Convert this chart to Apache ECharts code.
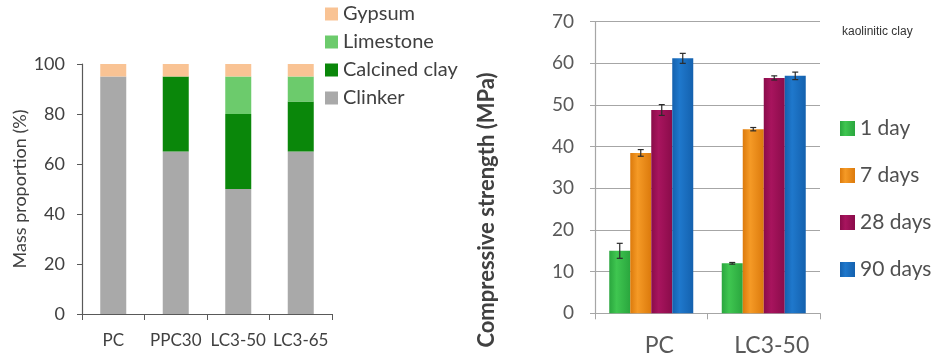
<!DOCTYPE html>
<html>
<head>
<meta charset="utf-8">
<script src="https://cdn.jsdelivr.net/npm/echarts@6/dist/echarts.min.js"></script>
<style>
  html, body { margin: 0; padding: 0; background: #ffffff; }
  #chart { width: 933px; height: 360px; }
</style>
</head>
<body>
<div id="chart"></div>
<script>
// Mix composition (mass %)
const mixCategories = ['PC', 'PPC30', 'LC3-50', 'LC3-65'];
const clinker = [95, 65, 50, 65];
const calcinedClay = [0, 30, 30, 20];
const limestone = [0, 0, 15, 10];
const gypsum = [5, 5, 5, 5];

// Compressive strength (MPa) with standard deviation
const strengthCategories = ['PC', 'LC3-50'];
const strength1d = [15.0, 12.0];
const strength7d = [38.5, 44.2];
const strength28d = [48.8, 56.5];
const strength90d = [61.2, 57.0];
const err1d = [1.8, 0.2];
const err7d = [0.8, 0.4];
const err28d = [1.3, 0.5];
const err90d = [1.2, 0.9];

const FONT = 'Lato';
const BAR_W = 21;

function shade(c1, c2) {
  return new echarts.graphic.LinearGradient(0, 0, 1, 0, [
    { offset: 0, color: c2 },
    { offset: 0.35, color: c1 },
    { offset: 1, color: c2 }
  ]);
}

function strengthBar(name, values, c1, c2) {
  return {
    name: name, type: 'bar', xAxisIndex: 1, yAxisIndex: 1,
    data: values, barWidth: BAR_W, barGap: '0%',
    itemStyle: { color: shade(c1, c2) }
  };
}

function errorBars(values, errs, offset) {
  return {
    type: 'custom', xAxisIndex: 1, yAxisIndex: 1, z: 10, silent: true,
    data: values.map((v, i) => [i, v, errs[i]]),
    encode: { x: 0, y: 1 },
    renderItem: function (params, api) {
      const i = api.value(0), v = api.value(1), e = api.value(2);
      const hi = api.coord([i, v + e]);
      const lo = api.coord([i, v - e]);
      const x = hi[0] + offset;
      const cap = 3;
      const st = { stroke: '#2b2b2b', lineWidth: 1.2 };
      return {
        type: 'group',
        children: [
          { type: 'line', shape: { x1: x, y1: hi[1], x2: x, y2: lo[1] }, style: st },
          { type: 'line', shape: { x1: x - cap, y1: hi[1], x2: x + cap, y2: hi[1] }, style: st },
          { type: 'line', shape: { x1: x - cap, y1: lo[1], x2: x + cap, y2: lo[1] }, style: st }
        ]
      };
    }
  };
}

const chart = echarts.init(document.getElementById('chart'), null, { renderer: 'canvas' });

chart.setOption({
  animation: false,
  backgroundColor: '#ffffff',
  textStyle: { fontFamily: FONT },
  title: {
    text: 'kaolinitic clay', left: 842, top: 26, padding: 0,
    textStyle: { fontFamily: 'Liberation Sans', fontSize: 12, fontWeight: 'normal', color: '#333333' }
  },
  // Strength axis title, placed a little below the plot's middle
  graphic: [
    {
      type: 'text', x: 487, y: 210, rotation: Math.PI / 2,
      style: {
        text: 'Compressive strength (MPa)', fontFamily: FONT, fontSize: 22, fontWeight: 'bold',
        fill: '#404040', align: 'center', verticalAlign: 'middle'
      }
    }
  ],
  legend: [
    {
      orient: 'vertical', left: 325, top: 4, padding: 0,
      itemWidth: 13, itemHeight: 13, itemGap: 8, icon: 'rect',
      data: ['Gypsum', 'Limestone', 'Calcined clay', 'Clinker'],
      textStyle: { fontFamily: FONT, fontSize: 20, color: '#404040' }
    },
    {
      orient: 'vertical', left: 840, top: 118, padding: 0,
      itemWidth: 15, itemHeight: 15, itemGap: 26, icon: 'rect',
      data: ['1 day', '7 days', '28 days', '90 days'],
      textStyle: { fontFamily: FONT, fontSize: 21, color: '#505050' }
    }
  ],
  grid: [
    { left: 82, top: 64, width: 250, height: 250 },
    { left: 595, top: 21.7, width: 225, height: 291.6 }
  ],
  xAxis: [
    {
      type: 'category', gridIndex: 0, data: mixCategories,
      axisLine: { lineStyle: { color: '#595959', width: 1.2 } },
      axisTick: { show: true, length: 6, lineStyle: { color: '#595959' } },
      axisLabel: { fontFamily: FONT, fontSize: 17, color: '#404040', margin: 18, interval: 0 }
    },
    {
      type: 'category', gridIndex: 1, data: strengthCategories,
      axisLine: { lineStyle: { color: '#a6a6a6', width: 1.2 } },
      axisTick: { show: true, length: 6, lineStyle: { color: '#a6a6a6' } },
      axisLabel: {
        fontFamily: FONT, fontSize: 23, color: '#595959', margin: 21, interval: 0,
        padding: [0, 0, 0, 16]
      }
    }
  ],
  yAxis: [
    {
      type: 'value', gridIndex: 0, min: 0, max: 100, interval: 20,
      name: 'Mass proportion (%)', nameLocation: 'middle', nameGap: 53,
      nameTextStyle: { fontFamily: FONT, fontSize: 18, color: '#404040' },
      axisLine: { show: true, lineStyle: { color: '#595959', width: 1.2 } },
      axisTick: { show: true, length: 5, lineStyle: { color: '#595959' } },
      splitLine: { show: false },
      axisLabel: { fontFamily: FONT, fontSize: 18, color: '#404040', margin: 17 }
    },
    {
      type: 'value', gridIndex: 1, min: 0, max: 70, interval: 10,
      axisLine: { show: true, lineStyle: { color: '#a6a6a6', width: 1.2 } },
      axisTick: { show: true, length: 5, lineStyle: { color: '#a6a6a6' } },
      splitLine: { show: true, lineStyle: { color: '#a6a6a6', width: 1 } },
      axisLabel: { fontFamily: FONT, fontSize: 19, color: '#595959', margin: 21 }
    }
  ],
  series: [
    { name: 'Clinker', type: 'bar', stack: 'mix', data: clinker, barWidth: 26, itemStyle: { color: '#a9a9a9' } },
    { name: 'Calcined clay', type: 'bar', stack: 'mix', data: calcinedClay, barWidth: 26, itemStyle: { color: '#0a870a' } },
    { name: 'Limestone', type: 'bar', stack: 'mix', data: limestone, barWidth: 26, itemStyle: { color: '#6ccb6c' } },
    { name: 'Gypsum', type: 'bar', stack: 'mix', data: gypsum, barWidth: 26, itemStyle: { color: '#f9c394' } },

    strengthBar('1 day', strength1d, '#3fc650', '#2aa63e'),
    strengthBar('7 days', strength7d, '#f59a26', '#dc7a0c'),
    strengthBar('28 days', strength28d, '#a8145e', '#8a0c4a'),
    strengthBar('90 days', strength90d, '#1f78cc', '#1461ae'),

    errorBars(strength1d, err1d, -1.5 * BAR_W),
    errorBars(strength7d, err7d, -0.5 * BAR_W),
    errorBars(strength28d, err28d, 0.5 * BAR_W),
    errorBars(strength90d, err90d, 1.5 * BAR_W)
  ]
});
</script>
</body>
</html>
